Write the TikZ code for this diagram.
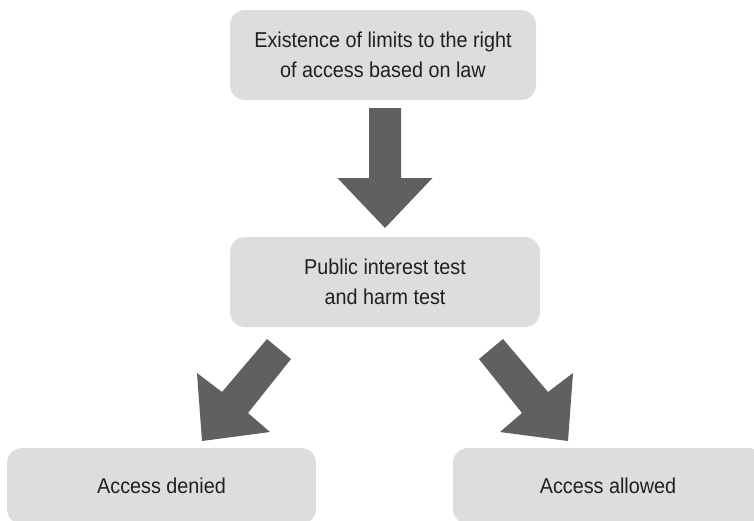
\documentclass[tikz,border=0pt]{standalone}
\usepackage{fontspec}
\setmainfont{Liberation Sans}[FakeStretch=0.92]
\definecolor{boxfill}{RGB}{220,221,222}
\definecolor{arrowfill}{RGB}{96,96,98}
\definecolor{txtcol}{RGB}{35,31,32}
\begin{document}
\begin{tikzpicture}[x=1pt,y=-1pt,
  box/.style={fill=boxfill, draw=none, rounded corners=15pt, align=center,
    text=txtcol, font=\fontsize{21.5}{29.5}\selectfont, inner sep=0pt},
  blockarrow/.style={fill=arrowfill, draw=none}]
\useasboundingbox (0,0) rectangle (754,520);
\clip (0,0) rectangle (754,520);
\node[box, minimum width=306pt, minimum height=90pt] (law) at (383,55)
  {Existence of limits to the right\\of access based on law};
\node[box, minimum width=310pt, minimum height=90pt] (test) at (385,282)
  {Public interest test\\and harm test};
\node[box, minimum width=309pt, minimum height=76pt] (denied) at (161.5,486)
  {Access denied};
\node[box, minimum width=310pt, minimum height=76pt] (allowed) at (608,486)
  {Access allowed};
% block arrows
\fill[blockarrow] (369,108) -- (401,108) -- (401,178) -- (432.5,178) -- (385,228)
  -- (337.5,178) -- (369,178) -- cycle;
\fill[blockarrow] (267,339) -- (291,359) -- (248,413) -- (270,432) -- (202,441)
  -- (197,373) -- (222,392) -- cycle;
\fill[blockarrow] (503,339) -- (479,359) -- (522,413) -- (500,432) -- (568,441)
  -- (573,373) -- (548,392) -- cycle;
\end{tikzpicture}
\end{document}
